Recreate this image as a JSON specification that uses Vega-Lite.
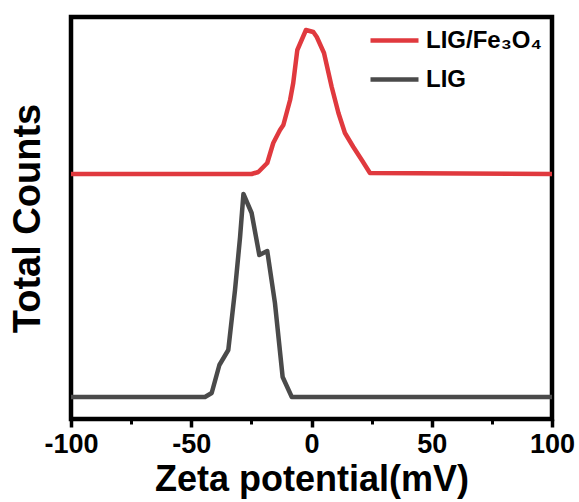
{
  "$schema": "https://vega.github.io/schema/vega-lite/v6.json",
  "width": 481,
  "height": 402,
  "autosize": "none",
  "padding": {"left": 71, "top": 17, "right": 27, "bottom": 83},
  "background": "white",
  "config": {
    "view": {"stroke": "black", "strokeWidth": 4.5},
    "font": "Liberation Sans"
  },
  "data": {
    "values": [
      {"x": -100, "y": 245, "series": "LIG/Fe₃O₄"},
      {"x": -24.9, "y": 245, "series": "LIG/Fe₃O₄"},
      {"x": -22.1, "y": 247, "series": "LIG/Fe₃O₄"},
      {"x": -18.4, "y": 256, "series": "LIG/Fe₃O₄"},
      {"x": -15.9, "y": 276, "series": "LIG/Fe₃O₄"},
      {"x": -13.1, "y": 289, "series": "LIG/Fe₃O₄"},
      {"x": -11.7, "y": 294, "series": "LIG/Fe₃O₄"},
      {"x": -8.9, "y": 319, "series": "LIG/Fe₃O₄"},
      {"x": -7.6, "y": 336, "series": "LIG/Fe₃O₄"},
      {"x": -5.9, "y": 369, "series": "LIG/Fe₃O₄"},
      {"x": -2.3, "y": 389, "series": "LIG/Fe₃O₄"},
      {"x": 0.75, "y": 387, "series": "LIG/Fe₃O₄"},
      {"x": 2.2, "y": 382, "series": "LIG/Fe₃O₄"},
      {"x": 5.2, "y": 366, "series": "LIG/Fe₃O₄"},
      {"x": 8.4, "y": 332, "series": "LIG/Fe₃O₄"},
      {"x": 11.2, "y": 306, "series": "LIG/Fe₃O₄"},
      {"x": 13.9, "y": 286, "series": "LIG/Fe₃O₄"},
      {"x": 17.4, "y": 272, "series": "LIG/Fe₃O₄"},
      {"x": 20.9, "y": 259, "series": "LIG/Fe₃O₄"},
      {"x": 24.3, "y": 246, "series": "LIG/Fe₃O₄"},
      {"x": 100, "y": 245, "series": "LIG/Fe₃O₄"},
      {"x": -100, "y": 22, "series": "LIG"},
      {"x": -44.3, "y": 22, "series": "LIG"},
      {"x": -41.5, "y": 26, "series": "LIG"},
      {"x": -38.3, "y": 54, "series": "LIG"},
      {"x": -34.6, "y": 69, "series": "LIG"},
      {"x": -31.8, "y": 129, "series": "LIG"},
      {"x": -29.7, "y": 182, "series": "LIG"},
      {"x": -28.3, "y": 225, "series": "LIG"},
      {"x": -24.9, "y": 206, "series": "LIG"},
      {"x": -21.7, "y": 164, "series": "LIG"},
      {"x": -18.4, "y": 168, "series": "LIG"},
      {"x": -15.2, "y": 116, "series": "LIG"},
      {"x": -12.0, "y": 42, "series": "LIG"},
      {"x": -8.2, "y": 22, "series": "LIG"},
      {"x": 100, "y": 22, "series": "LIG"}
    ]
  },
  "layer": [
    {
      "mark": {"type": "line", "strokeWidth": 4.5, "strokeJoin": "round"},
      "encoding": {
        "x": {
          "field": "x", "type": "quantitative",
          "scale": {"domain": [-100, 100], "nice": false, "zero": false},
          "axis": {
            "orient": "bottom",
            "values": [-100, -50, 0, 50, 100],
            "labelExpr": "'' + datum.value",
            "title": "Zeta potential(mV)",
            "titleFontSize": 36, "titleFontWeight": "bold", "titleColor": "black",
            "titlePadding": 5,
            "labelFontSize": 27, "labelFontWeight": "bold", "labelColor": "black",
            "labelPadding": 4, "labelFlush": false,
            "tickSize": 8, "tickWidth": 3.5, "tickColor": "black",
            "domain": false, "grid": false
          }
        },
        "y": {
          "field": "y", "type": "quantitative",
          "scale": {"domain": [0, 402], "nice": false},
          "axis": {
            "title": "Total Counts",
            "titleFontSize": 38, "titleFontWeight": "bold", "titleColor": "black",
            "titlePadding": 24,
            "labels": false, "ticks": false, "domain": false, "grid": false
          }
        },
        "color": {
          "field": "series", "type": "nominal",
          "scale": {"domain": ["LIG/Fe₃O₄", "LIG"], "range": ["#e0393e", "#4a4a4a"]},
          "legend": {
            "title": null,
            "orient": "none",
            "legendX": 297,
            "legendY": -3,
            "symbolType": "stroke",
            "symbolSize": 2304,
            "symbolStrokeWidth": 4.5,
            "labelFontSize": 24,
            "labelFontWeight": "bold",
            "labelColor": "black",
            "labelOffset": 5,
            "rowPadding": -21,
            "labelLimit": 300
          }
        }
      }
    },
    {
      "mark": {"type": "line", "opacity": 0},
      "encoding": {
        "x": {
          "field": "x", "type": "quantitative",
          "scale": {"domain": [-100, 100], "nice": false, "zero": false},
          "axis": {
            "orient": "bottom",
            "values": [-75, -25, 25, 75],
            "labels": false, "title": null, "domain": false, "grid": false,
            "tickSize": 5, "tickWidth": 3, "tickColor": "black"
          }
        },
        "y": {
          "field": "y", "type": "quantitative",
          "axis": {
            "title": "Total Counts",
            "titleFontSize": 38, "titleFontWeight": "bold", "titleColor": "black",
            "titlePadding": 24,
            "labels": false, "ticks": false, "domain": false, "grid": false
          }
        }
      }
    }
  ],
  "resolve": {"axis": {"x": "independent"}}
}
